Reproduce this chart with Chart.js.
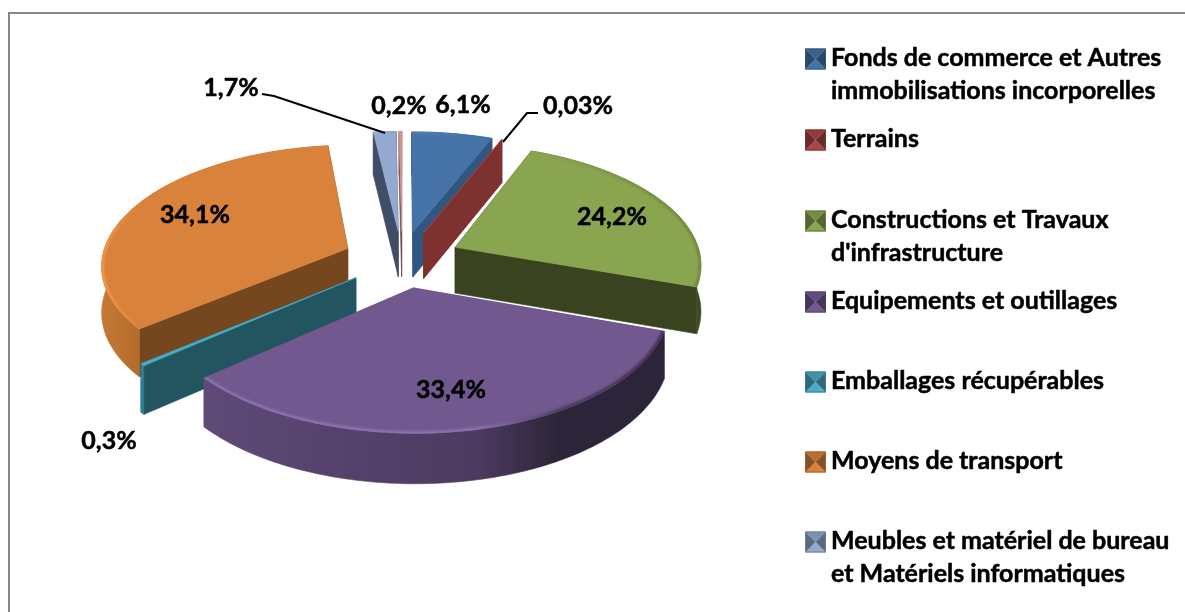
<!DOCTYPE html>
<html><head><meta charset="utf-8">
<script src="https://cdn.jsdelivr.net/npm/chart.js@4/dist/chart.umd.min.js"></script>
<style>html,body{margin:0;padding:0;background:#fff;overflow:hidden}canvas{display:block}</style>
</head><body>
<canvas id="c" width="1185" height="612"></canvas>
<script>
const categories=["Fonds de commerce et Autres immobilisations incorporelles","Terrains","Constructions et Travaux d'infrastructure","Equipements et outillages","Emballages récupérables","Moyens de transport","Meubles et matériel de bureau et Matériels informatiques",""];
const values=[6.1,0.03,24.2,33.4,0.3,34.1,1.7,0.2];
const valueLabels=["6,1%","0,03%","24,2%","33,4%","0,3%","34,1%","1,7%","0,2%"];
const legendLines=[["Fonds de commerce et Autres","immobilisations incorporelles"],["Terrains"],["Constructions et Travaux","d'infrastructure"],["Equipements et outillages"],["Emballages récupérables"],["Moyens de transport"],["Meubles et matériel de bureau","et Matériels informatiques"]];

// styling
const topCol=["#4573a7","#aa4644","#8aa54f","#71588f","#4aacc5","#d9823b","#93a9cf","#d99694"];
const wallCol=["#2f5780","#7d3230","#3a431f","#5d4875","#235561","#74471f","#3f4e66","#6b4a4a"];
const rimCol=[["#2f5780","#2f5780"],["#7d3230","#7d3230"],["#3e4a22","#3e4a22"],["#5f4a78","#4c3a60","#2c2438","#2c2438"],["#4aacc5","#2f7f94"],["#c57a36","#b36b2b"],["#3f4e66","#3f4e66"],["#6b4a4a","#6b4a4a"]];
const rimX=[[400,500],[400,510],[450,700],[200,480,560,660],[135,140],[100,140],[370,400],[395,405]];
const bevelCol=[["#5080b5","#4070a0"],["#b04a48","#8d3a38"],["#94ae58","#72893e"],["#8e72b0","#8e72b0","#4a3b60","#3f3250"],["#4aacc5","#4aacc5"],["#f59a4a","#d9823b"],["#a0b4d8","#8aa0c6"],["#e0a6a4","#c08583"]];
const drawOrder=[7,6,0,1,2,5,4,3];
const labelPos=[[463,105],[578,106],[612,217],[451,390],[109,441],[195,215],[231,88],[399,106]];
const legendY=[58,139,220,301,381,461,541];
const lineH=33;
const leaders=[[[262,94],[274,96],[385,133]],[[538,113],[527,113],[503,142]]];
const Rx=246,Ry=119,persp=0.127,explode=0.24,depth=46;

function shade(hex,f){const n=parseInt(hex.slice(1),16);const c=[n>>16,(n>>8)&255,n&255].map(v=>Math.max(0,Math.min(255,Math.round(f>1?v+(255-v)*(f-1):v*f))));return `rgb(${c[0]},${c[1]},${c[2]})`;}

const pie3d={id:'pie3d',
 beforeDatasetsDraw(chart){
  const ctx=chart.ctx,meta=chart.getDatasetMeta(0);
  const grad=(xs,cols)=>{const a=xs[0],b=xs[xs.length-1],g=ctx.createLinearGradient(a,0,b,0);xs.forEach((x,i)=>g.addColorStop((x-a)/(b-a||1),cols[i]));return g;};
  ctx.save();
  drawOrder.forEach(i=>{
   const el=meta.data[i];
   const a0=el.startAngle+Math.PI/2,a1=el.endAngle+Math.PI/2,mid=(a0+a1)/2;
   const ex=Math.sin(mid)*explode,ey=-Math.cos(mid)*explode;
   const P=(th,r,z)=>{const u=ex+r*Math.sin(th),v=ey-r*Math.cos(th),s=1/(1-persp*v);return [el.x+Rx*u*s,el.y+Ry*v*s+z*depth*(1+(s-1)*0.5)];};
   const n=Math.max(2,Math.ceil((a1-a0)/(Math.PI/180)));
   const arc=z=>{const o=[];for(let k=0;k<=n;k++)o.push(P(a0+(a1-a0)*k/n,1,z));return o;};
   const path=pts=>{ctx.beginPath();pts.forEach((p,k)=>k?ctx.lineTo(p[0],p[1]):ctx.moveTo(p[0],p[1]));ctx.closePath();};
   const top=arc(0),bot=arc(1);
   const fill=(pts,c)=>{path(pts);ctx.fillStyle=c;ctx.fill();ctx.strokeStyle=c;ctx.lineWidth=0.6;ctx.stroke();};
   fill([P(a0,0,0),P(a0,1,0),P(a0,1,1),P(a0,0,1)],wallCol[i]);
   fill([P(a1,0,0),P(a1,1,0),P(a1,1,1),P(a1,0,1)],wallCol[i]);
   fill(top.concat(bot.slice().reverse()),grad(rimX[i],rimCol[i]));
   const face=[P(a0,0,0)].concat(top);
   fill(face,topCol[i]);
   // bevel along the outer edge of the face
   ctx.save();path(face);ctx.clip();
   ctx.filter='blur(1.2px)';
   ctx.beginPath();top.forEach((p,k)=>k?ctx.lineTo(p[0],p[1]):ctx.moveTo(p[0],p[1]));
   ctx.strokeStyle=grad(rimX[i],bevelCol[i]);ctx.lineWidth=5;ctx.stroke();
   ctx.restore();
  });
  ctx.restore();
  return false;
 },
 afterDraw(chart){
  const ctx=chart.ctx;ctx.save();
  // frame
  ctx.strokeStyle="#868686";ctx.lineWidth=2;
  ctx.beginPath();ctx.moveTo(9,612);ctx.lineTo(9,13);ctx.lineTo(1185,13);ctx.stroke();
  // leaders
  ctx.strokeStyle="#000";ctx.lineWidth=2;
  leaders.forEach(l=>{ctx.beginPath();l.forEach((p,k)=>k?ctx.lineTo(p[0],p[1]):ctx.moveTo(p[0],p[1]));ctx.stroke();});
  // value labels
  ctx.fillStyle="#000";ctx.strokeStyle="#000";ctx.lineWidth=0.5;ctx.lineJoin="round";
  ctx.font="bold 25px Lato";ctx.textAlign="center";ctx.textBaseline="middle";
  valueLabels.forEach((t,i)=>{ctx.fillText(t,labelPos[i][0],labelPos[i][1]);ctx.strokeText(t,labelPos[i][0],labelPos[i][1]);});
  // legend
  ctx.font="bold 25px Lato";ctx.textAlign="left";
  legendLines.forEach((ls,i)=>{
   const y=legendY[i],x0=805,x1=826,yc=y+1,h=10.5,xc=(x0+x1)/2,c=topCol[i];
   const tri=(a,b,col)=>{ctx.beginPath();ctx.moveTo(a[0],a[1]);ctx.lineTo(b[0],b[1]);ctx.lineTo(xc,yc);ctx.closePath();ctx.fillStyle=col;ctx.fill();};
   tri([x0,yc-h],[x1,yc-h],shade(c,0.85));tri([x0,yc+h],[x1,yc+h],shade(c,1.0));
   tri([x0,yc-h],[x0,yc+h],shade(c,0.62));tri([x1,yc-h],[x1,yc+h],shade(c,0.62));
   ctx.lineWidth=1;ctx.strokeStyle=shade(c,0.75);ctx.strokeRect(x0+.5,yc-h+.5,x1-x0-1,2*h-1);
   ctx.fillStyle="#000";ctx.strokeStyle="#000";ctx.lineWidth=0.5;
   ls.forEach((t,k)=>{ctx.fillText(t,831,y+k*lineH);ctx.strokeText(t,831,y+k*lineH);});
  });
  ctx.restore();
 }
};

new Chart(document.getElementById('c'),{
 type:'pie',
 data:{labels:categories,datasets:[{data:values,backgroundColor:topCol,borderWidth:0}]},
 options:{responsive:false,animation:false,layout:{padding:{left:0,top:6,right:381,bottom:100}},
  plugins:{legend:{display:false},tooltip:{enabled:false}}},
 plugins:[pie3d]
});
</script>
</body></html>
